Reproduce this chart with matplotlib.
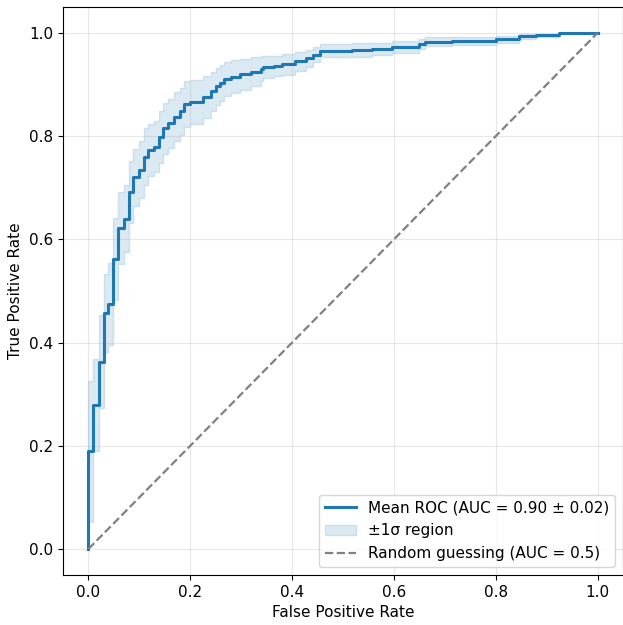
import numpy as np
from matplotlib import pyplot as plt

# mean ROC as steps (fpr where each tpr level starts)
fpr = [0.0, 0.0, 0.0085, 0.020, 0.030, 0.039, 0.049, 0.059, 0.069, 0.080,
       0.088, 0.099, 0.110, 0.118, 0.128, 0.138, 0.147, 0.157, 0.169, 0.180,
       0.188, 0.200, 0.225, 0.240, 0.250, 0.258, 0.267, 0.280, 0.298, 0.320,
       0.339, 0.342, 0.365, 0.381, 0.405, 0.428, 0.442, 0.455, 0.518, 0.557,
       0.597, 0.649, 0.662, 0.714, 0.800, 0.845, 0.880, 0.924, 1.0]
tpr_mean = [0.0, 0.189, 0.279, 0.363, 0.457, 0.475, 0.562, 0.622, 0.640, 0.692,
            0.720, 0.735, 0.760, 0.773, 0.780, 0.799, 0.815, 0.825, 0.838, 0.848,
            0.862, 0.866, 0.876, 0.887, 0.897, 0.903, 0.910, 0.915, 0.920, 0.925,
            0.931, 0.934, 0.936, 0.939, 0.945, 0.951, 0.958, 0.966, 0.967, 0.969,
            0.973, 0.979, 0.983, 0.985, 0.988, 0.994, 0.996, 1.0, 1.0]
tpr_std = [0.137, 0.137, 0.09, 0.09, 0.075, 0.08, 0.08, 0.07, 0.065, 0.06,
           0.055, 0.055, 0.055, 0.05, 0.05, 0.05, 0.05, 0.048, 0.048, 0.045,
           0.045, 0.042, 0.04, 0.038, 0.036, 0.035, 0.033, 0.032, 0.03, 0.028,
           0.025, 0.022, 0.02, 0.02, 0.018, 0.016, 0.015, 0.013, 0.013, 0.012,
           0.011, 0.01, 0.009, 0.008, 0.007, 0.005, 0.003, 0.0, 0.0]

fpr = np.array(fpr)
tpr_mean = np.array(tpr_mean)
tpr_std = np.array(tpr_std)
upper = np.minimum(tpr_mean + tpr_std, 1)
lower = np.maximum(tpr_mean - tpr_std, 0)

plt.rcParams['font.size'] = 11

fig, ax = plt.subplots(figsize=(6.23, 6.25), dpi=100)
fig.subplots_adjust(left=0.101, right=1.0, top=0.9885, bottom=0.0803)

ax.step(fpr, tpr_mean, where='post', color='#1f77b4', lw=2.2,
        label='Mean ROC (AUC = 0.90 ± 0.02)')
ax.fill_between(fpr, lower, upper, step='post', color='#1f77b4', alpha=0.16,
                label='±1σ region')
ax.plot([0, 1], [0, 1], linestyle='--', color='gray', lw=1.6,
        label='Random guessing (AUC = 0.5)')

ax.set_xlabel('False Positive Rate')
ax.set_ylabel('True Positive Rate')
ax.grid(True, alpha=0.3)
ax.legend(loc='lower right')

fig.savefig('out.png')
